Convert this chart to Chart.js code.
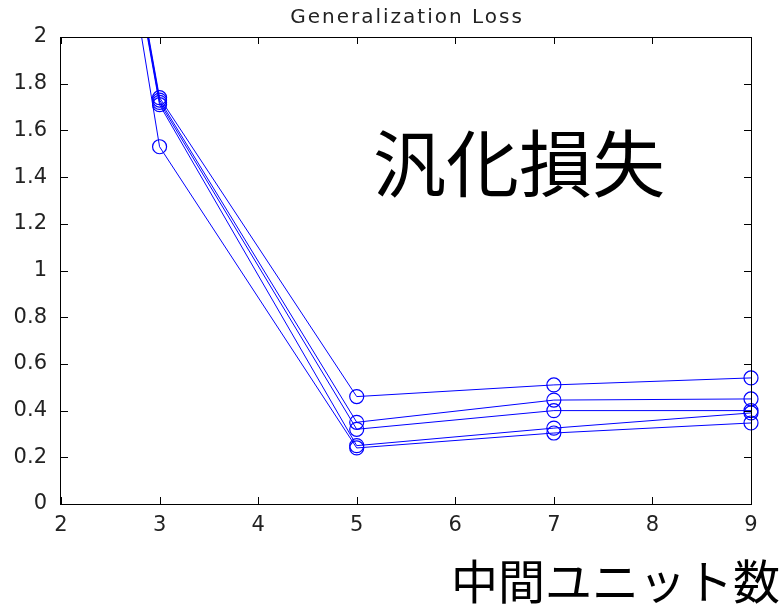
<!DOCTYPE html>
<html>
<head>
<meta charset="utf-8">
<script src="https://cdn.jsdelivr.net/npm/chart.js@4/dist/chart.umd.min.js"></script>
<style>
  html, body { margin: 0; padding: 0; background: #fff; }
  #wrap { position: relative; width: 782px; height: 609px; }
  .jp { position: absolute; font-family: "Noto Sans CJK JP", sans-serif; color: #000; line-height: 1; white-space: nowrap; }
  #loss { left: 373px; top: 123px; font-size: 73px; }
  #units { left: 451px; top: 555px; font-size: 47px; }
</style>
</head>
<body>
<div id="wrap">
  <canvas id="myChart" width="782" height="609"></canvas>
  <div class="jp" id="loss">汎化損失</div>
  <div class="jp" id="units">中間ユニット数</div>
</div>
<script>
// hidden units (x) and loss of each run
const hiddenUnits = [2, 3, 5, 7, 9];
const run1 = [4.10, 1.74, 0.46, 0.51, 0.54];
const run2 = [4.08, 1.73, 0.35, 0.445, 0.45];
const run3 = [4.09, 1.72, 0.32, 0.40, 0.40];
const run4 = [4.07, 1.71, 0.25, 0.325, 0.39];
const run5 = [4.11, 1.53, 0.24, 0.304, 0.347];
const runs = [run1, run2, run3, run4, run5];

const xTicks = [2, 3, 4, 5, 6, 7, 8, 9];
const yTicks = [0, 0.2, 0.4, 0.6, 0.8, 1, 1.2, 1.4, 1.6, 1.8, 2];
const chartTitle = "Generalization Loss";

const blue = "#0000ff";

// box round the plot plus inward tick marks, like the old matlab figure
const boxPlugin = {
  id: "box",
  afterDatasetsDraw(chart) {
    const { ctx, chartArea: a, scales } = chart;
    const len = 7;
    ctx.save();
    ctx.strokeStyle = "#000";
    ctx.lineWidth = 1;
    ctx.strokeRect(Math.round(a.left) - 0.5, Math.round(a.top) + 0.5,
      Math.round(a.right - a.left) + 1, Math.round(a.bottom - a.top));
    ctx.beginPath();
    scales.x.ticks.forEach((t, i) => {
      const px = Math.round(scales.x.getPixelForTick(i)) + 0.5;
      ctx.moveTo(px, a.bottom); ctx.lineTo(px, a.bottom - len);
      ctx.moveTo(px, a.top); ctx.lineTo(px, a.top + len);
    });
    scales.y.ticks.forEach((t, i) => {
      const py = Math.round(scales.y.getPixelForTick(i)) + 0.5;
      ctx.moveTo(a.left, py); ctx.lineTo(a.left + len, py);
      ctx.moveTo(a.right, py); ctx.lineTo(a.right - len, py);
    });
    ctx.stroke();

    // title, spaced out a bit like the original
    ctx.fillStyle = "#222";
    ctx.font = "20px 'DejaVu Sans'";
    ctx.letterSpacing = "2px";
    ctx.textAlign = "center";
    ctx.textBaseline = "middle";
    ctx.fillText(chartTitle, (a.left + a.right) / 2 + 1, 18);
    ctx.restore();
  }
};

const datasets = runs.map(r => ({
  data: r.map((v, i) => ({ x: hiddenUnits[i], y: v })),
  borderColor: blue,
  borderWidth: 1,
  pointStyle: "circle",
  pointRadius: 7,
  pointBorderWidth: 1.2,
  pointBorderColor: blue,
  pointBackgroundColor: "rgba(0,0,0,0)",
  fill: false,
  tension: 0,
  clip: { left: 0, top: 0, right: 12, bottom: 12 }
}));

const ctx = document.getElementById("myChart").getContext("2d");
new Chart(ctx, {
  type: "line",
  data: { datasets },
  options: {
    responsive: false,
    animation: false,
    devicePixelRatio: 1,
    layout: { padding: { left: 0, right: 31, top: 37, bottom: 0 } },
    plugins: {
      legend: { display: false },
      tooltip: { enabled: false },
      title: { display: false }
    },
    scales: {
      x: {
        type: "linear",
        min: 2,
        max: 9,
        afterBuildTicks: s => { s.ticks = xTicks.map(v => ({ value: v })); },
        afterFit: s => { s.height = 105; },
        grid: { display: false },
        border: { display: false },
        ticks: {
          color: "#222",
          font: { family: "DejaVu Sans", size: 21 },
          padding: 1,
          maxRotation: 0,
          callback: v => String(v)
        }
      },
      y: {
        min: 0,
        max: 2,
        afterBuildTicks: s => { s.ticks = yTicks.map(v => ({ value: v })); },
        afterFit: s => { s.width = 61; },
        grid: { display: false },
        border: { display: false },
        ticks: {
          color: "#222",
          font: { family: "DejaVu Sans", size: 21 },
          padding: 6,
          callback: v => String(Math.round(v * 10) / 10)
        }
      }
    }
  },
  plugins: [boxPlugin]
});
</script>
</body>
</html>
